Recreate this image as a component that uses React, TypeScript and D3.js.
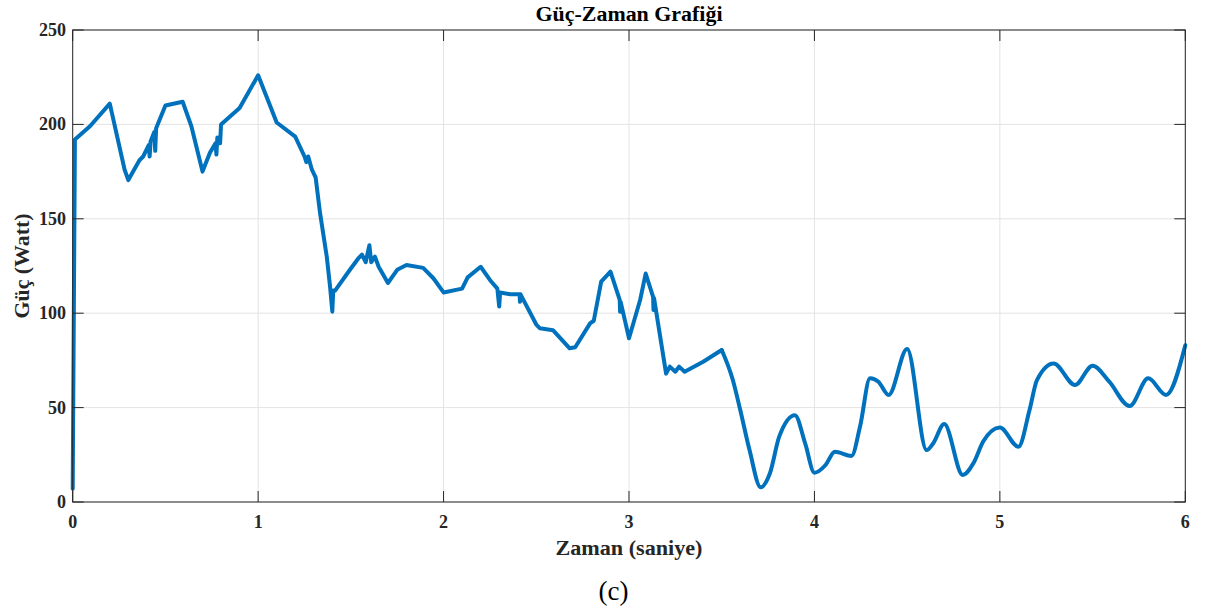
import React, { useRef, useEffect } from 'react';
import * as d3 from 'd3';

// zaman (saniye)
const zaman: number[] = [
  0, 0.012, 0.093, 0.2, 0.28, 0.3, 0.36, 0.38, 0.41, 0.415, 0.42, 0.44, 0.445, 0.45, 0.5, 0.593,
  0.64, 0.7, 0.74, 0.77, 0.775, 0.78, 0.795, 0.8, 0.9, 1.0, 1.1, 1.2, 1.25, 1.26, 1.27, 1.29,
  1.31, 1.334, 1.37, 1.388, 1.4, 1.405, 1.415, 1.495, 1.54, 1.56, 1.58, 1.6, 1.61, 1.63, 1.65, 1.7,
  1.75, 1.8, 1.89, 1.945, 2.0, 2.1, 2.13, 2.2, 2.25, 2.29, 2.3, 2.305, 2.36, 2.41, 2.412, 2.415,
  2.5, 2.52, 2.59, 2.68, 2.71, 2.79, 2.81, 2.85, 2.9, 2.95, 2.952, 2.955, 3.0, 3.06, 3.09, 3.13,
  3.132, 3.135, 3.2, 3.22, 3.25, 3.27, 3.3, 3.4, 3.5, 3.56, 3.6, 3.65, 3.71, 3.76, 3.81, 3.895,
  3.95, 4.0, 4.06, 4.11, 4.2, 4.246, 4.3, 4.345, 4.4, 4.5, 4.605, 4.64, 4.7, 4.8, 4.857, 4.91,
  5.0, 5.1, 5.16, 5.2, 5.29, 5.405, 5.5, 5.59, 5.7, 5.8, 5.896, 6.0,
];

// güç (Watt)
const guc: number[] = [
  7, 192, 199, 211, 176, 170.5, 181, 183, 189, 183, 191, 196, 186, 198, 210, 212,
  199, 175, 185, 190, 184, 193, 190, 200, 208.7, 226, 201, 193.5, 183, 180, 183, 176,
  172, 153, 130, 114, 100.8, 112, 112, 123, 129, 131, 127, 136, 127, 130, 124.6, 116,
  123, 125.5, 124, 118.5, 111, 113, 119, 124.6, 117.6, 113, 103.5, 111, 110, 110, 106, 110,
  94, 92, 91, 81.4, 82, 94.6, 96, 116.7, 122, 107, 100.8, 106, 86.7, 107, 121, 108.7,
  101.7, 108, 68, 71.7, 69, 71.7, 69, 74.3, 80.5, 64.6, 48.7, 27.5, 7.8, 15.2, 34.6, 46,
  31, 15.5, 19.6, 26.6, 24.4, 40, 65.5, 63.7, 56.7, 81, 27.5, 31, 41.3, 14.3, 20.5, 32,
  39.5, 29.3, 48.7, 64.6, 73.4, 62, 72.2, 63.7, 50.8, 65.5, 56.7, 83,
];

const xTicks = [0, 1, 2, 3, 4, 5, 6];
const yTicks = [0, 50, 100, 150, 200, 250];

// ilk kısım keskin köşeli, 3.5 s sonrası yumuşak
const yumusakBaslangic = 3.5;

const W = 1215;
const H = 612;
const left = 72.7;
const right = 1185.3;
const top = 30;
const bottom = 502;
const font = '"Liberation Serif", "Times New Roman", serif';
const axisColor = '#262626';
const tickLen = 11;

const App: React.FC = () => {
  const svgRef = useRef<SVGSVGElement | null>(null);

  useEffect(() => {
    if (!svgRef.current) return;
    const svg = d3.select(svgRef.current);
    svg.selectAll('*').remove();

    const x = d3.scaleLinear().domain([0, 6]).range([left, right]);
    const y = d3.scaleLinear().domain([0, 250]).range([bottom, top]);

    // grid
    const grid = svg.append('g');
    grid.selectAll('line.gx')
      .data(xTicks)
      .enter().append('line')
      .attr('x1', (d) => x(d)).attr('x2', (d) => x(d))
      .attr('y1', top).attr('y2', bottom)
      .attr('stroke', '#e3e3e3').attr('stroke-width', 1);
    grid.selectAll('line.gy')
      .data(yTicks)
      .enter().append('line')
      .attr('x1', left).attr('x2', right)
      .attr('y1', (d) => y(d)).attr('y2', (d) => y(d))
      .attr('stroke', '#e3e3e3').attr('stroke-width', 1);

    // data line
    const pts = zaman.map((t, i) => [t, guc[i]] as [number, number]);
    const ilk = pts.filter((d) => d[0] <= yumusakBaslangic);
    const son = pts.filter((d) => d[0] >= yumusakBaslangic);

    const keskin = d3.line<[number, number]>()
      .x((d) => x(d[0]))
      .y((d) => y(d[1]))
      .curve(d3.curveLinear);
    const yumusak = d3.line<[number, number]>()
      .x((d) => x(d[0]))
      .y((d) => y(d[1]))
      .curve(d3.curveMonotoneX);

    [[ilk, keskin], [son, yumusak]].forEach(([data, gen]: any) => {
      svg.append('path')
        .datum(data)
        .attr('d', gen)
        .attr('fill', 'none')
        .attr('stroke', '#0072BD')
        .attr('stroke-width', 4)
        .attr('stroke-linejoin', 'round')
        .attr('stroke-linecap', 'round');
    });

    // box
    svg.append('rect')
      .attr('x', left).attr('y', top)
      .attr('width', right - left).attr('height', bottom - top)
      .attr('fill', 'none').attr('stroke', axisColor).attr('stroke-width', 1);

    // ticks (inward, mirrored)
    const tk = svg.append('g').attr('stroke', axisColor).attr('stroke-width', 1);
    xTicks.forEach((d) => {
      tk.append('line').attr('x1', x(d)).attr('x2', x(d)).attr('y1', bottom).attr('y2', bottom - tickLen);
      tk.append('line').attr('x1', x(d)).attr('x2', x(d)).attr('y1', top).attr('y2', top + tickLen);
    });
    yTicks.forEach((d) => {
      tk.append('line').attr('x1', left).attr('x2', left + tickLen).attr('y1', y(d)).attr('y2', y(d));
      tk.append('line').attr('x1', right).attr('x2', right - tickLen).attr('y1', y(d)).attr('y2', y(d));
    });

    // tick labels
    svg.selectAll('text.xt')
      .data(xTicks)
      .enter().append('text')
      .attr('x', (d) => x(d))
      .attr('y', 528)
      .attr('text-anchor', 'middle')
      .text((d) => d.toString())
      .style('font-family', font).style('font-size', '18px').style('font-weight', 'bold')
      .style('fill', axisColor);
    svg.selectAll('text.yt')
      .data(yTicks)
      .enter().append('text')
      .attr('x', 66)
      .attr('y', (d) => y(d) + 6)
      .attr('text-anchor', 'end')
      .text((d) => d.toString())
      .style('font-family', font).style('font-size', '18px').style('font-weight', 'bold')
      .style('fill', axisColor);

    // title
    svg.append('text')
      .attr('x', 629).attr('y', 20.5)
      .attr('text-anchor', 'middle')
      .attr('textLength', 187).attr('lengthAdjust', 'spacingAndGlyphs')
      .text('Güç-Zaman Grafiği')
      .style('font-family', font).style('font-size', '20px').style('font-weight', 'bold')
      .style('fill', '#000');

    // axis labels
    svg.append('text')
      .attr('x', 629).attr('y', 554.5)
      .attr('text-anchor', 'middle')
      .attr('textLength', 147).attr('lengthAdjust', 'spacingAndGlyphs')
      .text('Zaman (saniye)')
      .style('font-family', font).style('font-size', '20px').style('font-weight', 'bold')
      .style('fill', axisColor);
    svg.append('text')
      .attr('transform', 'translate(29,266) rotate(-90)')
      .attr('text-anchor', 'middle')
      .attr('textLength', 105).attr('lengthAdjust', 'spacingAndGlyphs')
      .text('Güç (Watt)')
      .style('font-family', font).style('font-size', '20px').style('font-weight', 'bold')
      .style('fill', axisColor);

    // caption
    svg.append('text')
      .attr('x', 613.5).attr('y', 600)
      .attr('text-anchor', 'middle')
      .text('(c)')
      .style('font-family', font).style('font-size', '27px')
      .style('fill', '#000');
  }, []);

  return (
    <svg
      ref={svgRef}
      width={W}
      height={H}
      style={{ position: 'absolute', left: 0, top: 0, background: '#fff' }}
    />
  );
};

export default App;
